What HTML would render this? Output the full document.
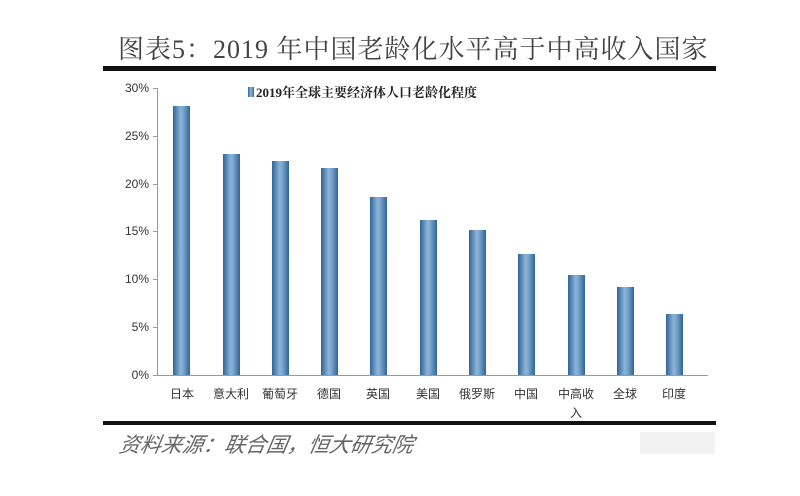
<!DOCTYPE html>
<html><head><meta charset="utf-8"><style>
body{margin:0;background:#fff;width:800px;height:491px;overflow:hidden}
</style></head><body>
<svg width="800" height="491" xmlns="http://www.w3.org/2000/svg" font-family="'Liberation Serif','Noto Serif CJK SC',serif">
<defs><linearGradient id="g" x1="0" x2="1" y1="0" y2="0">
<stop offset="0" stop-color="#2f6595"/><stop offset="0.45" stop-color="#8db4da"/><stop offset="0.6" stop-color="#7ba6cf"/><stop offset="1" stop-color="#2f6595"/></linearGradient></defs>
<text x="118" y="58" font-size="26" fill="#444" letter-spacing="1">图表5：2019 年中国老龄化水平高于中高收入国家</text>
<rect x="103" y="66" width="613" height="5" fill="#111"/>
<rect x="103" y="421" width="613" height="4" fill="#111"/>
<text x="118" y="452" font-size="21" fill="#666" font-style="italic" font-family="'Noto Sans CJK SC',sans-serif" transform="skewX(-10) translate(80,0)">资料来源：联合国，恒大研究院</text>
<rect x="640" y="432" width="75" height="22" fill="#f2f2f2"/>
<g stroke="#999" stroke-width="1">
<line x1="157.5" y1="88" x2="157.5" y2="375"/>
<line x1="157" y1="375.5" x2="708" y2="375.5"/>
<line x1="153" y1="88.5" x2="157" y2="88.5"/><line x1="153" y1="136.5" x2="157" y2="136.5"/><line x1="153" y1="184.5" x2="157" y2="184.5"/><line x1="153" y1="231.5" x2="157" y2="231.5"/><line x1="153" y1="279.5" x2="157" y2="279.5"/><line x1="153" y1="327.5" x2="157" y2="327.5"/><line x1="153" y1="375.5" x2="157" y2="375.5"/>
</g>
<g font-size="12" fill="#333" text-anchor="end" font-family="'Liberation Sans',sans-serif">
<text x="149" y="92">30%</text><text x="149" y="140">25%</text><text x="149" y="188">20%</text><text x="149" y="235">15%</text><text x="149" y="283">10%</text><text x="149" y="331">5%</text><text x="149" y="379">0%</text>
</g>
<rect x="248" y="87" width="6" height="10" fill="url(#g)"/>
<text x="256" y="97" font-size="13" font-weight="bold" fill="#222">2019年全球主要经济体人口老龄化程度</text>
<g fill="url(#g)">
<rect x="173" y="106" width="17" height="269"/>
<rect x="223" y="154" width="17" height="221"/>
<rect x="272" y="161" width="17" height="214"/>
<rect x="321" y="168" width="17" height="207"/>
<rect x="370" y="197" width="17" height="178"/>
<rect x="420" y="220" width="17" height="155"/>
<rect x="469" y="230" width="17" height="145"/>
<rect x="518" y="254" width="17" height="121"/>
<rect x="568" y="275" width="17" height="100"/>
<rect x="617" y="287" width="17" height="88"/>
<rect x="666" y="314" width="17" height="61"/>
</g>
<g font-size="12" fill="#333" text-anchor="middle" font-family="'Noto Sans CJK SC',sans-serif">
<text x="182" y="398">日本</text><text x="231" y="398">意大利</text><text x="280" y="398">葡萄牙</text><text x="329" y="398">德国</text><text x="378" y="398">英国</text><text x="428" y="398">美国</text><text x="477" y="398">俄罗斯</text><text x="526" y="398">中国</text><text x="576" y="398">中高收</text><text x="576" y="417">入</text><text x="625" y="398">全球</text><text x="674" y="398">印度</text>
</g>
</svg>
</body></html>
